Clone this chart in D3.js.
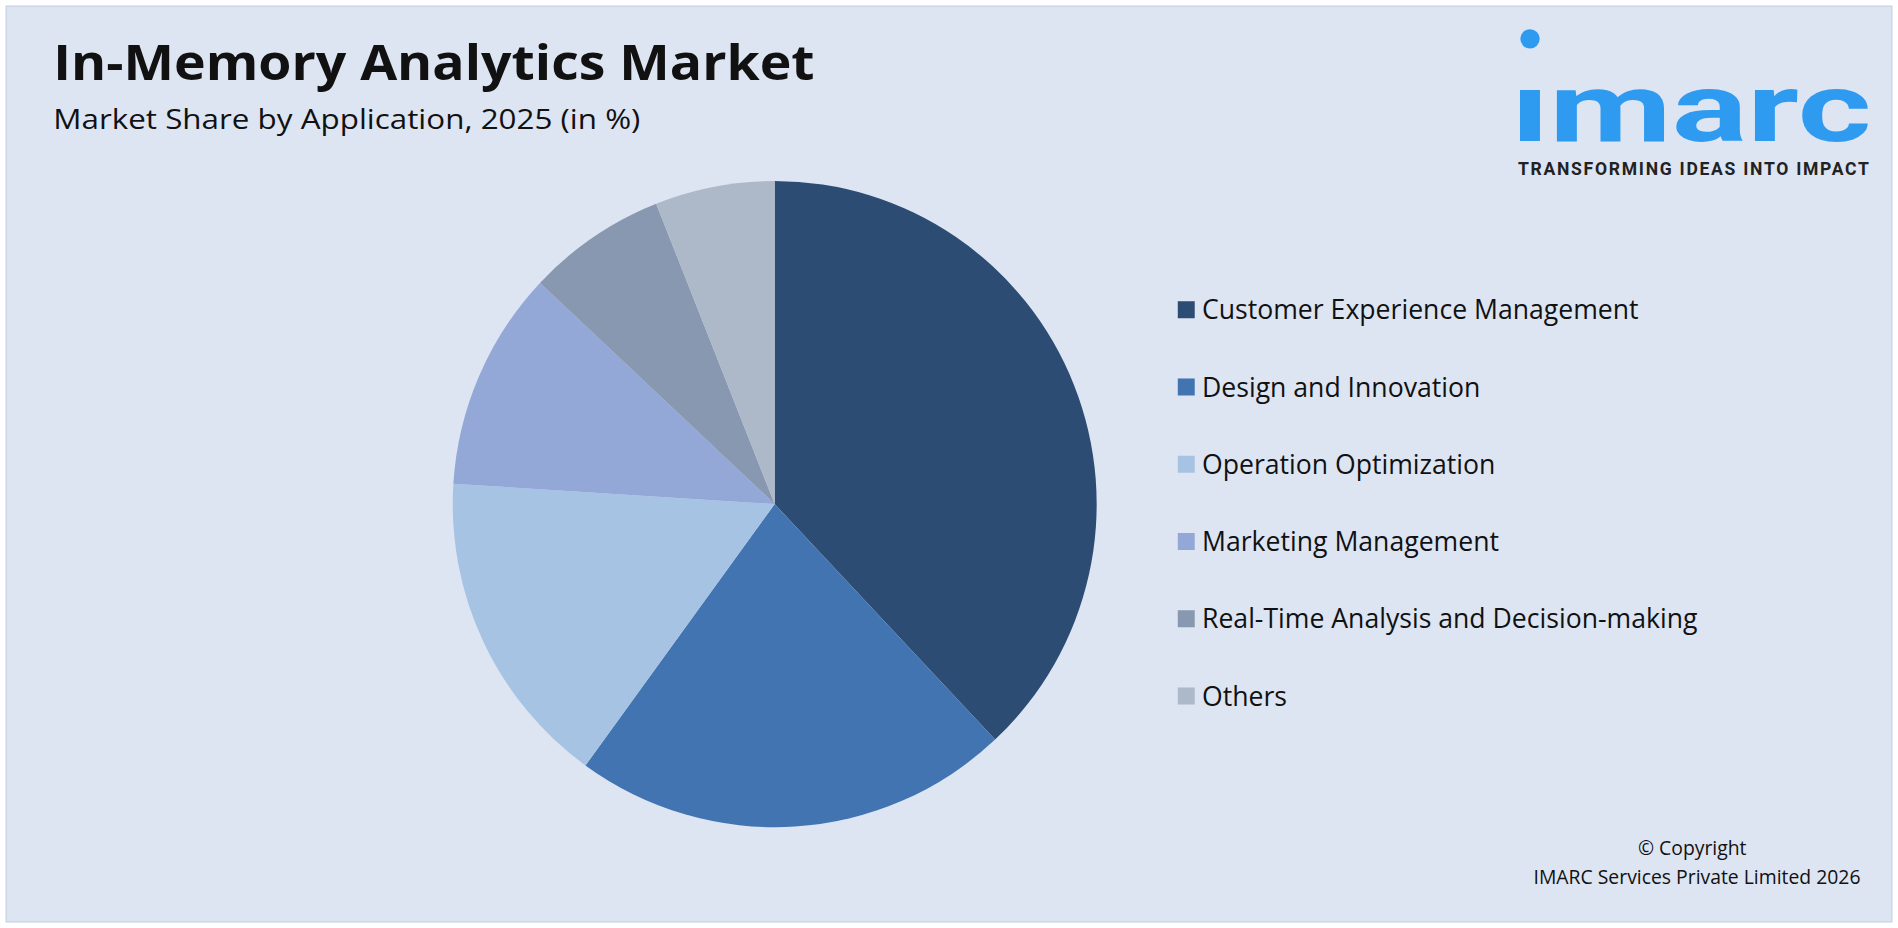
<!DOCTYPE html>
<html><head><meta charset="utf-8">
<script src="https://cdn.jsdelivr.net/npm/d3@7"></script>
<style>html,body{margin:0;padding:0;background:#fff;overflow:hidden}</style>
</head><body>
<svg id="chart" width="1898" height="928" viewBox="0 0 1568 764" preserveAspectRatio="none"></svg>
<script>
const categories = ["Customer Experience Management", "Design and Innovation", "Operation Optimization",
  "Marketing Management", "Real-Time Analysis and Decision-making", "Others"];
const shares = [38, 22, 16, 11, 7, 6];
const colors = ["#2c4c74", "#4174b0", "#a7c3e3", "#94a8d8", "#8898b0", "#adb8c9"];

const svg = d3.select("#chart");
const font = "'Open Sans', Roboto, sans-serif";

svg.append("rect").attr("x", 5).attr("y", 5).attr("width", 1558).attr("height", 754)
  .attr("fill", "#dde5f3").attr("stroke", "#c9d2e2");

svg.append("text").attr("x", 44).attr("y", 66).attr("font-family", font)
  .attr("font-weight", 700).attr("font-size", 40).attr("fill", "#111")
  .attr("textLength", 629).attr("lengthAdjust", "spacingAndGlyphs").text("In-Memory Analytics Market");
svg.append("text").attr("x", 44).attr("y", 106).attr("font-family", font)
  .attr("font-size", 23).attr("fill", "#111")
  .attr("textLength", 485).attr("lengthAdjust", "spacingAndGlyphs").text("Market Share by Application, 2025 (in %)");

// logo
const logo = svg.append("g");
logo.append("circle").attr("cx", 1264).attr("cy", 32).attr("r", 8).attr("fill", "#2f9bf0");
logo.append("text").attr("x", 1248).attr("y", 116).attr("font-family", "Roboto, sans-serif").attr("font-weight", 700)
  .attr("font-size", 80).attr("fill", "#2f9bf0").attr("textLength", 298).attr("lengthAdjust", "spacingAndGlyphs").text("ımarc");
logo.append("text").attr("x", 1254).attr("y", 144).attr("font-family", "Roboto, sans-serif").attr("font-weight", 700)
  .attr("font-size", 14.5).attr("fill", "#222").attr("textLength", 290).text("TRANSFORMING IDEAS INTO IMPACT");

// pie
const data = categories.map((c, i) => ({ c, v: shares[i], col: colors[i] }));
const pie = d3.pie().value(d => d.v).sort(null);
const arc = d3.arc().innerRadius(0).outerRadius(266);
svg.append("g").attr("transform", "translate(640,415)")
  .selectAll("path").data(pie(data)).join("path")
  .attr("d", arc).attr("fill", d => d.data.col);

// legend
const y = d3.scalePoint().domain(categories).range([255, 573]);
const leg = svg.append("g").selectAll("g").data(data).join("g")
  .attr("transform", d => `translate(973,${y(d.c)})`);
leg.append("rect").attr("x", 0).attr("y", -7).attr("width", 14).attr("height", 14).attr("fill", d => d.col);
leg.append("text").attr("x", 20).attr("y", 8).attr("font-family", font).attr("font-size", 22)
  .attr("fill", "#111").text(d => d.c);

svg.append("text").attr("x", 1398).attr("y", 704).attr("text-anchor", "middle").attr("font-family", font)
  .attr("font-size", 16).attr("fill", "#111").text("© Copyright");
svg.append("text").attr("x", 1537).attr("y", 728).attr("text-anchor", "end").attr("font-family", font)
  .attr("font-size", 16).attr("fill", "#111").text("IMARC Services Private Limited 2026");
</script>
</body></html>
